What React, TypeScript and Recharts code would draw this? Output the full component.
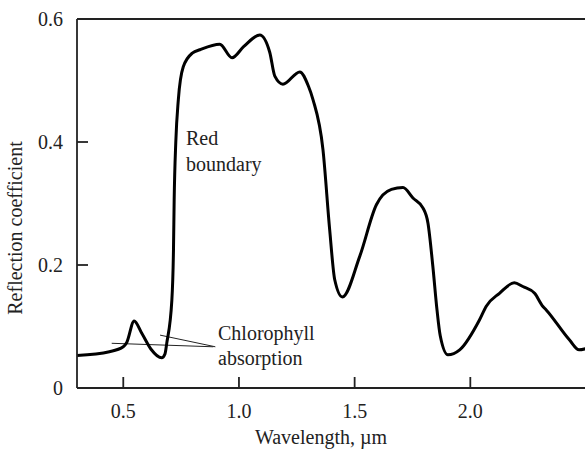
import { LineChart, Line, XAxis, YAxis, ReferenceLine, Customized } from "recharts";

// wavelength (µm) and reflection coefficient
const wavelength = [
  0.3, 0.44, 0.5, 0.515, 0.547, 0.58, 0.62, 0.666, 0.68, 0.688, 0.71, 0.717, 0.72, 0.727, 0.738,
  0.759, 0.8, 0.831, 0.917, 0.97, 1.02, 1.09, 1.133, 1.155, 1.19, 1.263, 1.3, 1.32, 1.363,
  1.392, 1.414, 1.447, 1.522, 1.594, 1.659, 1.709, 1.752, 1.795, 1.817, 1.838, 1.856, 1.87,
  1.903, 1.954, 2.04, 2.069, 2.126, 2.19, 2.227, 2.278, 2.313, 2.328, 2.429, 2.47, 2.5,
];
const reflection = [
  0.053, 0.059, 0.067, 0.074, 0.109, 0.089, 0.063, 0.049, 0.055, 0.073, 0.143, 0.225, 0.306,
  0.4, 0.469, 0.522, 0.545, 0.55, 0.559, 0.537, 0.555, 0.574, 0.546, 0.507, 0.494, 0.514,
  0.491, 0.469, 0.388, 0.258, 0.176, 0.148, 0.214, 0.298, 0.323, 0.326, 0.309, 0.293, 0.268,
  0.198, 0.127, 0.085, 0.054, 0.062, 0.111, 0.133, 0.154, 0.171, 0.165, 0.154, 0.133, 0.127,
  0.078, 0.062, 0.064,
];

const xTicks = [0.5, 1.0, 1.5, 2.0];
const yTicks = [0, 0.2, 0.4, 0.6];

// pointer lines from the "Chlorophyll absorption" note, in data units
const pointerLines = [
  [{ x: 0.45, y: 0.0727 }, { x: 0.889, y: 0.067 }],
  [{ x: 0.659, y: 0.086 }, { x: 0.898, y: 0.067 }],
];

const data = wavelength.map((w, i) => ({ w, r: reflection[i] }));

const FONT = "Liberation Serif, Tinos, Nimbus Roman, FreeSerif, Times New Roman, Georgia, serif";
const INK = "#222";

function XTick({ x, y, payload }: any) {
  return (
    <g>
      <line x1={x} y1={y} x2={x} y2={y - 11} stroke={INK} strokeWidth={1.8} />
      <text x={x} y={y + 30} textAnchor="middle" fill={INK} fontFamily={FONT} fontSize={20}>
        {payload.value.toFixed(1)}
      </text>
    </g>
  );
}

function YTick({ x, y, payload }: any) {
  const v = payload.value;
  // no tick marks at the corners
  const showLine = v > 0 && v < 0.6;
  return (
    <g>
      {showLine && <line x1={x + 14} y1={y} x2={x + 25} y2={y} stroke={INK} strokeWidth={1.8} />}
      <text x={x} y={y} dy="0.355em" textAnchor="end" fill={INK} fontFamily={FONT} fontSize={20}>
        {v === 0 ? "0" : v.toFixed(1)}
      </text>
    </g>
  );
}

function Labels() {
  const t = { fontFamily: FONT, fontSize: 20, fill: INK };
  return (
    <g>
      <text x={186} y={145} {...t}>Red</text>
      <text x={186} y={171} {...t}>boundary</text>
      <text x={218} y={340} {...t}>Chlorophyll</text>
      <text x={218} y={365} {...t}>absorption</text>
      <text x={321} y={444} textAnchor="middle" {...t}>Wavelength, µm</text>
      <text x={22} y={228} textAnchor="middle" transform="rotate(-90, 22, 228)" {...t}>
        Reflection coefficient
      </text>
    </g>
  );
}

export default function App() {
  return (
    <div style={{ position: "absolute", left: 0, top: 0, width: 585, height: 450, background: "#fff", fontFamily: FONT }}>
      <LineChart width={585} height={450} data={data} margin={{ top: 19, right: -1, bottom: 22, left: 17 }}>
        <XAxis
          dataKey="w"
          type="number"
          domain={[0.3, 2.5]}
          ticks={xTicks}
          allowDataOverflow
          height={40}
          tickSize={0}
          tickMargin={0}
          tickLine={false}
          axisLine={{ stroke: INK, strokeWidth: 1.8 }}
          tick={<XTick />}
        />
        <YAxis
          type="number"
          domain={[0, 0.6]}
          ticks={yTicks}
          width={60}
          tickSize={0}
          tickMargin={14}
          tickLine={false}
          axisLine={{ stroke: INK, strokeWidth: 1.8 }}
          tick={<YTick />}
        />
        <ReferenceLine y={0.6} stroke={INK} strokeWidth={1.8} />
        {pointerLines.map((seg, i) => (
          <ReferenceLine key={i} segment={seg} stroke={INK} strokeWidth={1} ifOverflow="visible" />
        ))}
        <Line
          dataKey="r"
          type="monotone"
          stroke="#000"
          strokeWidth={3}
          dot={false}
          isAnimationActive={false}
        />
        <Customized component={Labels} />
      </LineChart>
    </div>
  );
}
